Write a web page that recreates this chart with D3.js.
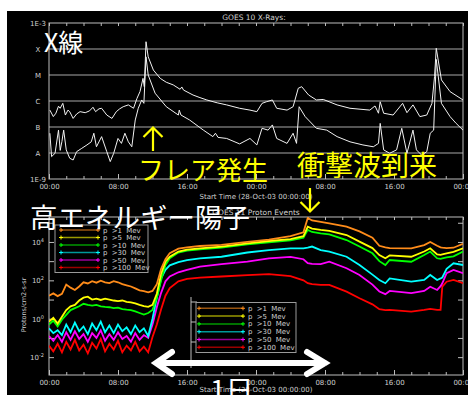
<!DOCTYPE html>
<html>
<head>
<meta charset="utf-8">
<script src="https://cdn.jsdelivr.net/npm/d3@7/dist/d3.min.js"></script>
<style>
  body { margin: 0; background: #fff; }
  text { font-family: "DejaVu Sans", Arial, sans-serif; }
  .jp { font-family: "Noto Sans CJK JP", sans-serif; }
</style>
</head>
<body>
<svg id="chart" width="468" height="395"></svg>
<script>
// GOES 10 X-rays: [hours since 28-Oct-03 00:00, log10 flux W/m2]
var xrayLong = [[0.1,-6.35],[0.5,-6.6],[0.8,-6.47],[1.1,-6.2],[1.3,-6.28],[1.6,-6.09],[1.9,-6.54],[2.2,-6.35],
  [2.4,-6.41],[2.8,-6.67],[3.2,-6.5],[3.6,-6.41],[4.2,-6.45],[4.7,-6.38],[5.1,-6.24],[5.4,-6.41],[5.8,-6.3],
  [6.1,-6.28],[6.7,-6.54],[7.3,-6.67],[7.8,-6.41],[8.2,-6.3],[8.6,-6.22],[9.2,-6.15],[9.8,-6.28],[10.2,-5.9],
  [10.55,-5.64],[10.9,-5.13],[11.05,-5.45],[11.25,-3.72],[11.5,-4.3],[12.1,-4.81],[12.9,-5.13],[13.6,-5.28],
  [14.4,-5.38],[15.2,-5.55],[15.4,-5.46],[15.6,-5.58],[16.7,-5.77],[17.5,-5.87],[18.3,-5.96],[19.5,-6.07],
  [20.6,-6.15],[22.1,-6.28],[23.3,-6.35],[24.1,-6.41],[24.7,-6.09],[25.2,-6.03],[25.9,-5.96],[26.4,-6.28],
  [27.6,-6.35],[28.3,-6.22],[28.9,-5.51],[29.3,-5.45],[30.1,-5.77],[31,-5.96],[31.8,-5.94],[33.4,-6.15],
  [34.9,-6.28],[37.2,-6.35],[37.8,-6.19],[38.2,-6.47],[38.4,-6.03],[38.8,-6.47],[39.9,-6.54],[41,-6.09],
  [41.5,-6.45],[42.2,-6.15],[43,-6.6],[43.8,-6.54],[44.4,-6.09],[44.7,-5.06],[44.9,-3.97],[45.5,-5.19],
  [46.5,-5.64],[48,-5.96]];
var xrayShort = [[0.1,-7.24],[0.3,-8.14],[0.7,-8.01],[1.1,-7.12],[1.3,-7.9],[1.5,-7.55],[1.7,-7.12],[2.0,-7.88],
  [2.4,-8.2],[2.8,-8.27],[3.2,-7.95],[3.8,-7.82],[4.4,-7.69],[4.9,-7.57],[5.2,-7.24],[5.5,-7.76],[6.1,-7.37],
  [6.7,-7.95],[7.1,-8.33],[7.5,-8.01],[8.0,-7.44],[8.4,-7.63],[8.8,-7.24],[9.2,-7.57],[9.6,-7.76],[10.0,-6.73],
  [10.35,-6.28],[10.75,-5.96],[11.0,-6.09],[11.25,-4.3],[11.5,-5.0],[12.3,-5.7],[13.6,-6.22],[15.0,-6.54],
  [15.1,-6.35],[15.3,-6.54],[16.3,-6.73],[17.9,-7.12],[19.0,-7.37],[19.3,-7.24],[19.6,-7.4],[20.6,-7.44],
  [22.1,-7.65],[23.3,-7.44],[24.1,-7.69],[24.7,-7.05],[25.4,-7.12],[25.9,-6.92],[26.4,-7.44],[27.6,-7.63],
  [28.3,-7.24],[28.7,-7.63],[29.0,-6.22],[29.7,-6.6],[31.0,-7.05],[32.2,-7.12],[33.4,-7.37],[34.9,-7.57],
  [36.4,-7.69],[37.6,-7.76],[38.2,-7.63],[38.4,-6.86],[38.8,-7.88],[39.5,-8.01],[40.3,-7.88],[40.9,-7.05],
  [41.5,-8.01],[42.2,-7.12],[42.6,-7.88],[43.2,-8.08],[43.8,-7.95],[44.2,-7.24],[44.6,-7.12],[44.9,-4.4],
  [45.5,-6.09],[46.5,-6.6],[47.2,-6.86],[48,-7.12]];

// GOES 11 protons: log10 Protons/cm2-s-sr at protonHours
var protonHours = [0,0.5,1,1.5,2,2.5,3,3.5,4,4.5,5,5.5,6,6.5,7,7.5,8,8.5,9,9.5,10,10.5,11,11.5,
  12,12.5,13,13.5,14,15,16,17.5,20,23,25.5,28,29.5,30,30.5,31.5,32.5,34.5,36,37.5,38.3,39,39.5,42,43.5,
  44.2,45,45.4,45.6,46.1,46.9,48];
var protonGt1 = [1.20,1.32,1.18,1.30,1.78,1.62,1.50,1.68,1.90,1.84,1.96,1.88,1.98,1.90,1.86,1.96,1.90,1.80,
  1.74,1.68,1.58,1.48,1.44,1.38,
  1.45,1.8,2.6,3.1,3.42,3.65,3.72,3.79,3.85,4.0,4.12,4.3,4.5,5.25,5.12,5.05,4.97,4.8,4.55,4.22,3.8,3.72,
  3.68,3.67,3.84,4.0,3.8,3.72,3.7,3.68,3.7,3.9];
var protonGt5 = [-0.15,0.05,-0.25,0.1,0.45,0.65,0.72,0.95,1.1,1.15,1.0,1.05,0.98,1.05,1.0,0.95,0.92,0.95,
  0.88,0.85,0.8,0.72,0.66,0.62,
  0.72,1.3,2.35,2.97,3.23,3.5,3.6,3.67,3.76,3.93,4.05,4.15,4.3,4.8,4.7,4.63,4.58,4.36,4.02,3.68,3.32,3.15,
  3.3,3.23,3.5,3.67,3.35,3.33,3.35,3.4,3.48,3.67];
var protonGt10 = [-0.3,-0.1,-0.4,-0.05,0.2,0.45,0.55,0.65,0.78,0.72,0.68,0.72,0.65,0.62,0.6,0.55,0.58,0.5,
  0.47,0.45,0.38,0.3,0.22,0.3,
  0.46,1.1,2.0,2.8,3.15,3.45,3.55,3.62,3.7,3.88,3.98,4.08,4.22,4.63,4.52,4.45,4.4,4.1,3.76,3.41,3.0,2.8,
  3.06,2.97,3.32,3.5,3.15,3.12,3.15,3.2,3.25,3.5];
var protonGt30 = [-0.5,-0.75,-0.6,-0.85,-0.3,-0.7,-0.2,-0.65,-0.4,-0.8,-0.25,-0.6,-0.15,-0.7,-0.35,-0.75,
  -0.3,-0.65,-0.45,-0.8,-0.35,-0.7,-0.5,-0.9,
  0.0,1.1,2.1,2.55,2.78,2.95,3.05,3.15,3.23,3.45,3.58,3.67,3.67,3.7,3.76,3.58,3.5,3.23,2.8,2.3,2.02,1.85,
  2.1,1.93,2.02,2.28,2.02,2.1,2.15,2.6,2.89,2.8];
var protonGt50 = [-0.9,-1.15,-0.85,-1.2,-0.7,-1.1,-0.65,-1.05,-0.8,-1.2,-0.75,-1.0,-0.6,-1.15,-0.8,-1.1,
  -0.7,-1.05,-0.9,-1.2,-0.75,-1.1,-0.85,-1.0,
  -0.3,0.6,1.35,1.95,2.2,2.42,2.55,2.71,2.85,2.97,3.15,3.22,3.1,2.9,2.86,2.85,2.97,2.63,2.28,1.78,1.42,1.28,
  1.45,1.33,1.45,1.67,1.5,1.7,1.85,2.37,2.54,2.37];
var protonGt100 = [-1.4,-1.7,-1.3,-1.75,-1.2,-1.6,-1.1,-1.65,-1.35,-1.8,-1.25,-1.55,-1.05,-1.7,-1.3,-1.6,
  -1.15,-1.75,-1.4,-1.65,-1.2,-1.7,-1.45,-1.75,
  -0.95,-0.3,0.5,1.2,1.6,1.95,2.08,2.14,2.2,2.27,2.32,2.22,2.0,1.85,1.8,1.76,1.76,1.41,1.07,0.75,0.5,0.45,
  0.46,0.37,0.46,0.51,0.46,0.46,1.67,1.93,2.02,1.85];

var protonSeries = [protonGt1, protonGt5, protonGt10, protonGt30, protonGt50, protonGt100];
var protonLabels = ["p >1 Mev", "p >5 Mev", "p >10 Mev", "p >30 Mev", "p >50 Mev", "p >100 Mev"];
var protonColors = ["#ff8c1a", "#ffff00", "#00ff00", "#00ffff", "#ff00ff", "#ff0000"];

var hourTicks = [0, 8, 16, 24, 32, 40, 48];
var hourLabels = ["00:00", "08:00", "16:00", "00:00", "08:00", "16:00", "00:00"];
var flareLevels = [1e-8, 1e-7, 1e-6, 1e-5, 1e-4];
var flareClasses = ["A", "B", "C", "M", "X"];
var protonDecades = [1e-2, 1e0, 1e2, 1e4];
var protonExp = ["-2", "0", "2", "4"];

//////////////////////////////////////////////////////////////////////////////

var svg = d3.select("#chart");
var grey = "#bdbdbd", labelGrey = "#d0d0d0";
var left = 49, right = 463;
var xrayBox = {top: 23, bottom: 179, startY: 198.5};
var protBox = {top: 217, bottom: 375, startY: 392};

svg.append("rect").attr("x", 7).attr("y", 11).attr("width", 461).attr("height", 384).attr("fill", "#000");

var x = d3.scaleLinear().domain([0, 48]).range([left, right]);
var yX = d3.scaleLog().domain([1e-9, 1e-3]).range([xrayBox.bottom, xrayBox.top]);
var yP = d3.scaleLog().domain([Math.pow(10, -2.93), Math.pow(10, 5.3)]).range([protBox.bottom, protBox.top]);

function styleAxis(g) {
  g.attr("font-family", "DejaVu Sans").attr("font-size", 7);
  g.select(".domain").remove();
  g.selectAll("line").attr("stroke", grey);
  g.selectAll("text").attr("fill", labelGrey);
}

function timeAxes(box) {
  svg.append("g").attr("transform", "translate(0," + box.bottom + ")")
    .call(d3.axisBottom(x).tickValues(d3.range(0, 49, 2)).tickSize(-3).tickFormat(""))
    .call(styleAxis);
  svg.append("g").attr("transform", "translate(0," + box.top + ")")
    .call(d3.axisTop(x).tickValues(d3.range(0, 49, 2)).tickSize(-3).tickFormat(""))
    .call(styleAxis);
  svg.append("g").attr("transform", "translate(0," + box.bottom + ")")
    .call(d3.axisBottom(x).tickValues(hourTicks).tickSize(-5).tickPadding(5)
      .tickFormat(function(d, i) { return hourLabels[i]; }))
    .call(styleAxis);
  svg.append("rect").attr("x", left).attr("y", box.top)
    .attr("width", right - left).attr("height", box.bottom - box.top)
    .attr("fill", "none").attr("stroke", grey);
  svg.append("text").attr("x", 256).attr("y", box.startY)
    .attr("text-anchor", "middle").attr("font-size", 7).attr("fill", labelGrey)
    .text("Start Time (28-Oct-03 00:00:00)");
}

// ---- X-ray panel ----
svg.append("text").attr("x", 254).attr("y", 19.5).attr("text-anchor", "middle")
  .attr("font-size", 7.5).attr("fill", labelGrey).text("GOES 10 X-Rays:");

svg.selectAll(".grid").data(flareLevels).enter().append("line")
  .attr("x1", left).attr("x2", right)
  .attr("y1", function(d) { return yX(d); }).attr("y2", function(d) { return yX(d); })
  .attr("stroke", "#a8a8a8").attr("stroke-width", 1);

timeAxes(xrayBox);

svg.selectAll(".flare").data(flareLevels).enter().append("text")
  .attr("x", 38).attr("y", function(d) { return yX(d) + 2.5; })
  .attr("text-anchor", "middle").attr("font-size", 7).attr("fill", labelGrey)
  .text(function(d, i) { return flareClasses[i]; });
svg.selectAll(".ends").data([1e-3, 1e-9]).enter().append("text")
  .attr("x", 38).attr("y", function(d) { return yX(d) + 2.5; })
  .attr("text-anchor", "middle").attr("font-size", 7).attr("fill", labelGrey)
  .text(function(d) { return d === 1e-3 ? "1E-3" : "1E-9"; });

var xrayLine = d3.line()
  .x(function(d) { return x(d[0]); })
  .y(function(d) { return yX(Math.pow(10, d[1])); });

[xrayLong, xrayShort].forEach(function(s) {
  svg.append("path").datum(s).attr("d", xrayLine)
    .attr("fill", "none").attr("stroke", "#f2f2f2").attr("stroke-width", 1);
});

// ---- proton panel ----
svg.append("text").attr("x", 256).attr("y", 214.5).attr("text-anchor", "middle")
  .attr("font-size", 7.5).attr("fill", labelGrey).text("GOES 11 Proton Events");

timeAxes(protBox);

var decadeTicks = d3.range(-2, 6).map(function(e) { return Math.pow(10, e); });
svg.append("g").attr("transform", "translate(" + left + ",0)")
  .call(d3.axisLeft(yP).tickValues(decadeTicks).tickSize(-5).tickFormat("")).call(styleAxis);
svg.append("g").attr("transform", "translate(" + right + ",0)")
  .call(d3.axisRight(yP).tickValues(decadeTicks).tickSize(-5).tickFormat("")).call(styleAxis);

var decLab = svg.selectAll(".dec").data(protonDecades).enter().append("text")
  .attr("x", 44).attr("y", function(d) { return yP(d) + 3; })
  .attr("text-anchor", "end").attr("font-size", 7).attr("fill", labelGrey);
decLab.append("tspan").text("10");
decLab.append("tspan").attr("dy", -3).attr("font-size", 5).text(function(d, i) { return protonExp[i]; });

svg.append("text").attr("transform", "translate(26,305) rotate(-90)")
  .attr("text-anchor", "middle").attr("font-size", 6.5).attr("fill", labelGrey)
  .text("Protons/cm2-s-sr");

svg.append("clipPath").attr("id", "pclip").append("rect")
  .attr("x", left).attr("y", protBox.top).attr("width", right - left).attr("height", protBox.bottom - protBox.top);

var protonLine = d3.line()
  .x(function(d, i) { return x(protonHours[i]); })
  .y(function(d) { return yP(Math.pow(10, d)); });

protonSeries.slice().reverse().forEach(function(s, k) {
  var c = protonColors[protonSeries.length - 1 - k];
  svg.append("path").datum(s).attr("d", protonLine).attr("clip-path", "url(#pclip)")
    .attr("fill", "none").attr("stroke", c).attr("stroke-width", 1.8);
});

// odd pasted axis fragment
svg.append("line").attr("x1", 191).attr("x2", 191).attr("y1", 297).attr("y2", 368).attr("stroke", grey);
svg.selectAll(".frag").data([302, 322, 342]).enter().append("line")
  .attr("x1", 191).attr("x2", 197).attr("y1", function(d) { return d; }).attr("y2", function(d) { return d; })
  .attr("stroke", grey);

function legend(bx, by, bw, bh, row0, step, l0, l1, tx) {
  svg.append("rect").attr("x", bx).attr("y", by).attr("width", bw).attr("height", bh)
    .attr("fill", "#000").attr("stroke", "#9a9a9a").attr("stroke-width", 1);
  var g = svg.append("g");
  protonLabels.forEach(function(lab, i) {
    var yy = row0 + i * step;
    g.append("line").attr("x1", l0).attr("x2", l1).attr("y1", yy).attr("y2", yy)
      .attr("stroke", protonColors[i]).attr("stroke-opacity", 0.6).attr("stroke-width", 1.5);
    [l0, l1].forEach(function(px) {
      g.append("path").attr("d", "M" + (px - 2) + "," + yy + "h4M" + px + "," + (yy - 2) + "v4")
        .attr("stroke", protonColors[i]).attr("stroke-width", 1);
    });
    g.append("text").attr("x", tx).attr("y", yy + 2.5).attr("font-size", 7)
      .attr("word-spacing", 2).attr("fill", labelGrey).text(lab);
  });
}
legend(55, 225, 93, 47.5, 230, 7.5, 61, 98, 103);
legend(196, 302.5, 100, 50, 308.3, 7.8, 199, 243, 248);

// ---- annotations ----
svg.append("text").attr("class", "jp").attr("x", 44).attr("y", 51.5)
  .attr("font-size", 25).attr("fill", "#fff").text("X線");
svg.append("text").attr("class", "jp").attr("x", 138).attr("y", 180)
  .attr("font-size", 26).attr("fill", "#ffff00").text("フレア発生");
svg.append("text").attr("class", "jp").attr("x", 297).attr("y", 176)
  .attr("font-size", 28).attr("fill", "#ffff00").text("衝撃波到来");
svg.append("text").attr("class", "jp").attr("x", 30).attr("y", 228)
  .attr("font-size", 27.5).attr("fill", "#fff").text("高エネルギー陽子");
svg.append("text").attr("class", "jp").attr("x", 210).attr("y", 401)
  .attr("font-size", 28).attr("fill", "#fff").text("1日");

svg.append("path").attr("d", "M153,151V127.5M143.5,137L153,127.5L162.5,137")
  .attr("fill", "none").attr("stroke", "#ffff00").attr("stroke-width", 2.2);
svg.append("path").attr("d", "M310,188V211.5M300.5,202L310,211.5L319.5,202")
  .attr("fill", "none").attr("stroke", "#ffff00").attr("stroke-width", 2.2);

svg.append("path").attr("d", "M157,363H325M172,352L156,363L172,374M307,352L325,363L307,374")
  .attr("fill", "none").attr("stroke", "#fff").attr("stroke-width", 6)
  .attr("stroke-linejoin", "miter").attr("stroke-linecap", "round");
</script>
</body>
</html>
